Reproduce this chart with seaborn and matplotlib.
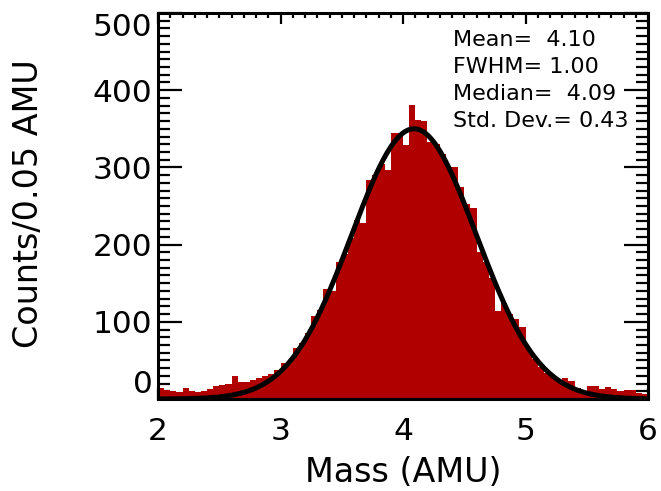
import numpy as np
import pandas as pd
import matplotlib
matplotlib.use("Agg")
import matplotlib.pyplot as plt
from matplotlib.ticker import MultipleLocator
import seaborn as sns

# ---- data ----
bin_start = 2.0
bin_end = 6.0
bin_width = 0.05
counts = [14, 12, 10, 9, 14, 10, 9, 11, 13, 17,
          18, 20, 30, 22, 22, 25, 27, 30, 33, 38,
          46, 48, 66, 72, 85, 108, 115, 142, 140, 178,
          188, 208, 232, 228, 284, 290, 305, 297, 345, 345,
          329, 381, 362, 360, 333, 330, 318, 300, 300, 275,
          252, 247, 190, 178, 157, 114, 124, 110, 104, 93,
          65, 52, 42, 34, 28, 25, 27, 23, 14, 10,
          17, 17, 13, 15, 13, 10, 12, 12, 8, 7]

# Gaussian fit curve parameters (as drawn)
fit_mean = 4.09
fit_sigma = 0.51
fit_amp = 350.0

stats_lines = ["Mean=  4.10", "FWHM= 1.00", "Median=  4.09", "Std. Dev.= 0.43"]
x_label = "Mass (AMU)"
y_label = "Counts/0.05 AMU"

# ---- build tables ----
n_bins = len(counts)
centers = bin_start + bin_width * (np.arange(n_bins) + 0.5)
hist_df = pd.DataFrame({"mass": centers, "counts": counts})

xf = np.linspace(bin_start, bin_end, 600)
fit_df = pd.DataFrame({"mass": xf,
                       "fit": fit_amp * np.exp(-(xf - fit_mean) ** 2 / (2 * fit_sigma ** 2))})

sns.set_style("ticks")
plt.rcParams["font.family"] = ["DejaVu Sans"]
plt.rcParams["text.color"] = "black"
plt.rcParams["axes.labelcolor"] = "black"

fig = plt.figure(figsize=(6.61, 4.91), dpi=100)
ax = fig.add_axes([158 / 661, 1 - 399 / 491, 490 / 661, 386 / 491])

sns.histplot(data=hist_df, x="mass", weights="counts", bins=n_bins,
             binrange=(bin_start, bin_end),
             element="step", fill=True, color="#b00000", alpha=1.0,
             linewidth=0, ax=ax)
sns.lineplot(data=fit_df, x="mass", y="fit", color="black", linewidth=3.6, ax=ax)

ax.set_xlim(2, 6)
ax.set_ylim(0, 500)
ax.xaxis.set_major_locator(MultipleLocator(1))
ax.xaxis.set_minor_locator(MultipleLocator(0.1))
ax.yaxis.set_major_locator(MultipleLocator(100))
ax.yaxis.set_minor_locator(MultipleLocator(10))

for s in ax.spines.values():
    s.set_linewidth(2.2)
    s.set_color("black")
    s.set_visible(True)

ax.tick_params(axis="both", which="both", direction="in", top=True, right=True,
               colors="black", labelsize=22.5)
ax.tick_params(axis="y", which="major", length=17.5, width=1.6, pad=4)
ax.tick_params(axis="y", which="minor", length=8.5, width=1.6)
ax.tick_params(axis="x", which="major", length=7.8, width=1.6, pad=13)
ax.tick_params(axis="x", which="minor", length=3.6, width=1.6)

ax.set_xlabel(x_label, fontsize=24, va="baseline", color="black")
ax.xaxis.set_label_coords(0.5, -0.215)
ax.set_ylabel(y_label, fontsize=24, va="center", color="black")
ax.yaxis.set_label_coords(-0.265, 0.505)

ax.text(0.602, 0.955, "\n".join(stats_lines), transform=ax.transAxes,
        ha="left", va="top", fontsize=16, linespacing=1.43, color="black")

fig.canvas.draw()
for t in ax.yaxis.get_major_ticks():
    loc = t.get_loc()
    if abs(loc - 0) < 1e-6:
        t.label1.set_verticalalignment("bottom")
    elif abs(loc - 500) < 1e-6:
        t.label1.set_verticalalignment("top")

fig.savefig("out.png", dpi=100)
